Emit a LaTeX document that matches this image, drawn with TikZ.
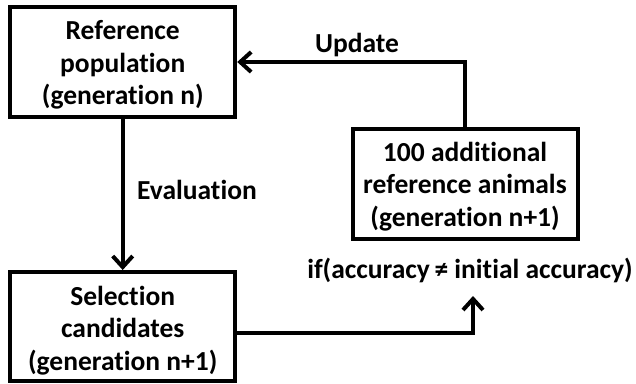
\documentclass[tikz,border=0pt]{standalone}
\usepackage{fontspec}
\setmainfont{Carlito}[Ligatures=NoCommon]
\usetikzlibrary{arrows.meta}
\begin{document}
\begin{tikzpicture}[x=1pt,y=-1pt,
  txt/.style={font=\fontsize{27.5}{32.5}\selectfont\bfseries},
  box/.style={draw=black,line width=4pt,minimum width=225pt,minimum height=110pt,inner sep=0pt},
  boxtext/.style={txt,inner sep=0pt,align=center},
  lbl/.style={txt,inner sep=0pt},
  conn/.style={line width=4pt,-{Straight Barb[length=11pt,width=20pt,line width=4pt]}}]
\useasboundingbox (0,0) rectangle (636,383);
\node[box] (ref) at (122.7,62) {};
\node[boxtext] (reft) at ([yshift=-3pt]ref.center) {Reference\\population\\(generation n)};
\node[box,minimum height=109pt] (sel) at (122.7,326.5) {};
\node[boxtext] (selt) at ([yshift=-4pt]sel.center) {Selection\\candidates\\(generation n+1)};
\node[box] (add) at (465,184.3) {};
\node[boxtext] (addt) at ([yshift=-2pt]add.center) {100 additional\\reference animals\\(generation n+1)};
\node[lbl] (cond) at (470,270) {if(accuracy\,≠ initial accuracy)};
\node[lbl,anchor=west] (eval) at (137,190) {Evaluation};
\node[lbl] (upd) at (357,45) {Update};
\draw[conn] (ref.south) -- (sel.north);
\draw[conn] (add.north) |- (ref.east);
\coordinate (condin) at (473,296);
\draw[conn] (sel.east |- 0,333) -| (condin);
\end{tikzpicture}
\end{document}
